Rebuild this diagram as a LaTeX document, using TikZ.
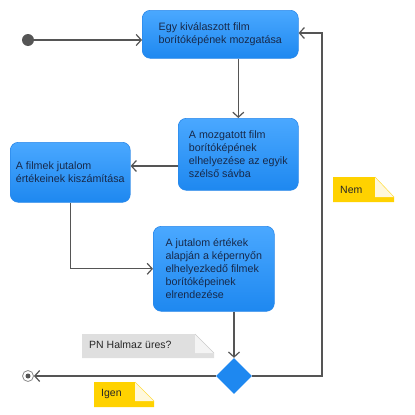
\documentclass[tikz,border=0pt]{standalone}
\usepackage{fontspec}
\setmainfont{Liberation Sans}
\usetikzlibrary{arrows.meta,shapes.geometric,calc}
\definecolor{boxtop}{HTML}{4AA8FF}
\definecolor{boxbot}{HTML}{1E88F0}
\definecolor{boxline}{HTML}{2A88EA}
\definecolor{txt}{HTML}{17294A}
\definecolor{ln}{HTML}{555555}
\definecolor{noteY}{HTML}{FFD200}
\definecolor{noteYl}{HTML}{FFF8DC}
\definecolor{noteG}{HTML}{DFDFDF}
\definecolor{noteGl}{HTML}{F4F4F4}
\begin{document}
\begin{tikzpicture}[x=1pt,y=-1pt,
  act/.style={draw=boxline, line width=0.6pt, rounded corners=8pt,
    top color=boxtop, bottom color=boxbot, anchor=north west, align=left,
    font=\fontsize{10.7}{13}\selectfont, text=txt, inner sep=0pt},
  conn/.style={draw=ln, line width=1.2pt, -{Straight Barb[length=5pt,width=11pt]}},
  notetxt/.style={font=\fontsize{10.5}{12}\selectfont, text=black!85, inner sep=0pt, anchor=west}]
\useasboundingbox (0,0) rectangle (415,415);
% activities
\node[act, minimum width=156pt, minimum height=48pt] (b1) at (142,10)
  {Egy kiválaszott film\\borítóképének mozgatása};
\node[act, minimum width=120pt, minimum height=72pt] (b2) at (178,118)
  {A mozgatott film\\borítóképének\\elhelyezése az egyik\\szélső sávba};
\node[act, minimum width=120pt, minimum height=60pt] (b3) at (10,142)
  {A filmek jutalom\\értékeinek kiszámítása};
\node[act, minimum width=121pt, minimum height=85pt] (b4) at (153,226)
  {A jutalom értékek\\alapján a képernyőn\\elhelyezkedő filmek\\borítóképeinek\\elrendezése};
% start, end, decision
\node[circle, fill=ln, minimum size=12pt, inner sep=0pt] (start) at (28,40) {};
\node[circle, draw=black!45, line width=0.8pt, fill=white, minimum size=11pt, inner sep=0pt] (end) at (28,376) {};
\node[circle, fill=ln, minimum size=5pt, inner sep=0pt] (enddot) at (28,376) {};
\node[diamond, fill=boxbot, minimum width=36pt, minimum height=36pt, inner sep=0pt] (dec) at (234,376) {};
% helper coordinates
\coordinate (y166) at (0,166);
\coordinate (loopR) at (322,376);
\coordinate (loopT) at (322,33);
% connectors
\draw[conn] (start) -- (start -| b1.west);
\draw[conn] (b1.south -| b2.north) -- (b2.north);
\draw[conn] (b2.west |- y166) -- (b3.east |- y166);
\draw[conn] (b3.south) |- (b4.west);
\draw[conn] (b4.south -| dec.north) -- (dec.north);
\draw[conn] (dec.east) -- (loopR) -- (loopT) -- (loopT -| b1.east);
\draw[conn] (dec.west) -- (end.east);
% notes
\fill[noteY] (333,177) -- (375,177) -- (394,197) -- (394,202) -- (333,202) -- cycle;
\fill[noteYl] (375,177) -- (394,197) -- (375,197) -- cycle;
\draw[noteY!70!white, line width=0.5pt] (375,177) -- (394,197);
\node[notetxt] (nem) at (340,189.5) {Nem};
\fill[noteG] (82,334) -- (195,334) -- (214,353) -- (214,358) -- (82,358) -- cycle;
\fill[noteGl] (195,334) -- (214,353) -- (195,353) -- cycle;
\draw[black!20, line width=0.5pt] (195,334) -- (214,353);
\node[notetxt] (pn) at (89,345) {PN Halmaz üres?};
\fill[noteY] (94,382) -- (135,382) -- (154,401) -- (154,407) -- (94,407) -- cycle;
\fill[noteYl] (135,382) -- (154,401) -- (135,401) -- cycle;
\draw[noteY!70!white, line width=0.5pt] (135,382) -- (154,401);
\node[notetxt] (igen) at (101,393.5) {Igen};
\end{tikzpicture}
\end{document}
